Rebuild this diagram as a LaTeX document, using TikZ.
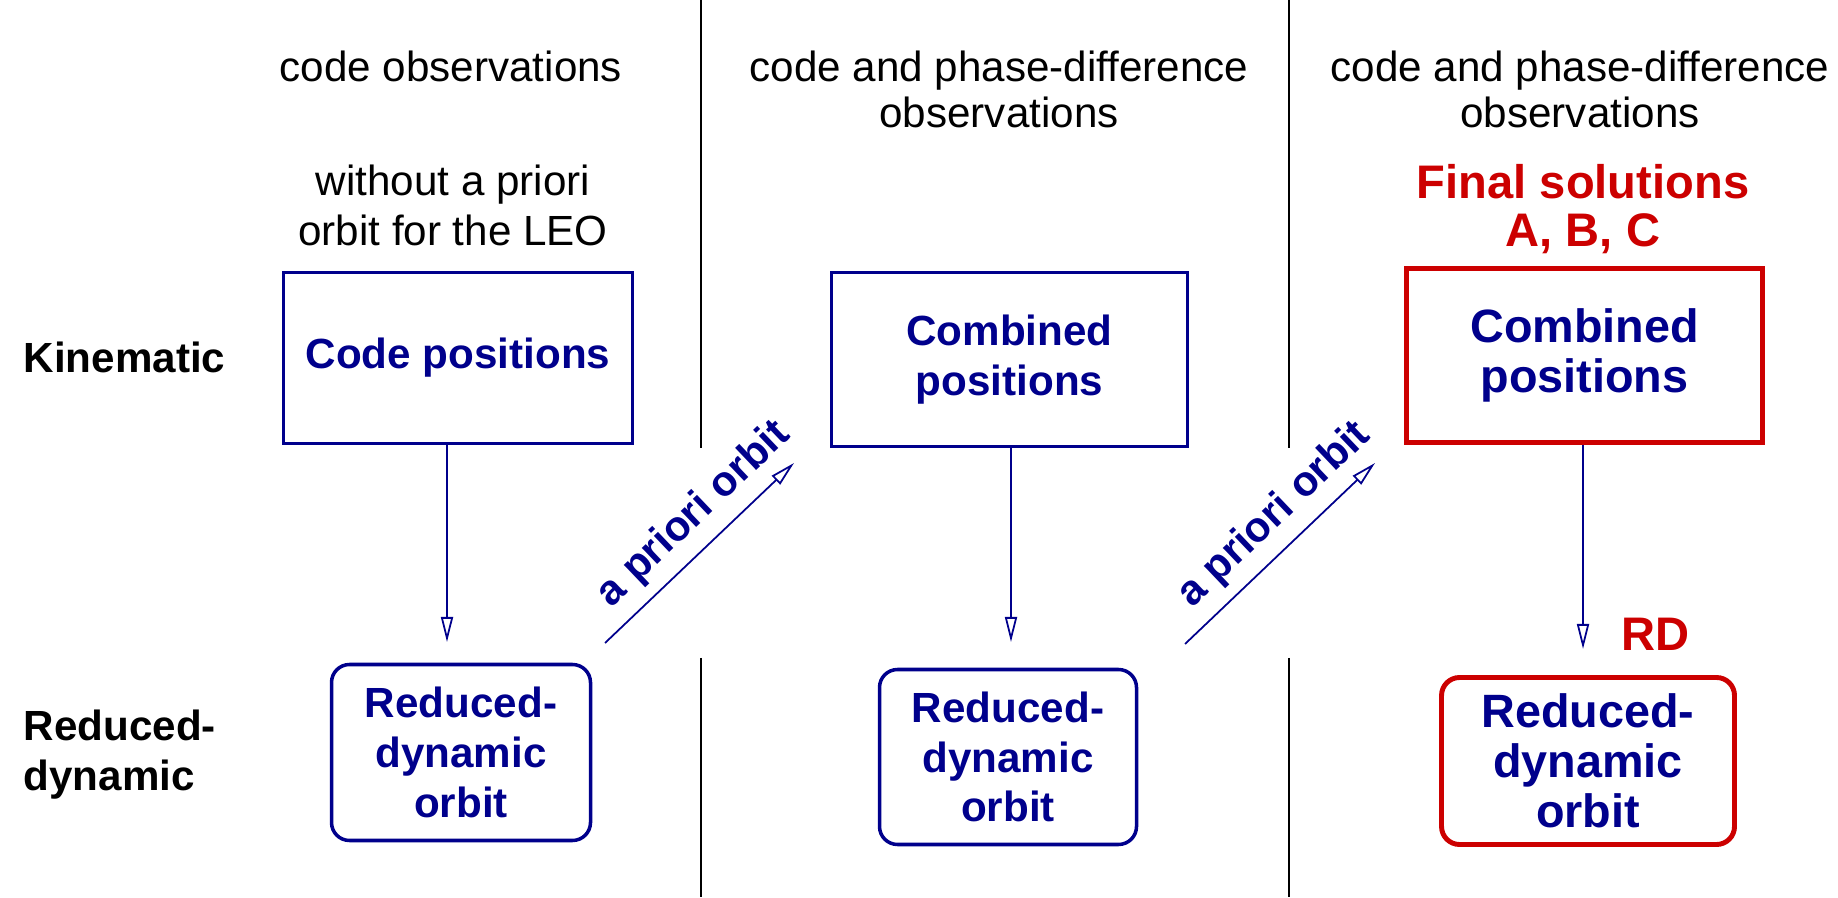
\documentclass[tikz,border=0pt]{standalone}
\usepackage{fontspec}
\setmainfont{Liberation Sans}
\usetikzlibrary{arrows.meta}
\definecolor{leoblue}{RGB}{0,0,140}
\definecolor{leored}{RGB}{204,0,0}
\begin{document}
\begin{tikzpicture}[x=0.1mm,y=0.1mm,
    hdr/.style={font=\fontsize{12}{13.2}\selectfont, align=center, inner sep=0, anchor=base},
    rowlbl/.style={font=\bfseries\fontsize{12}{14.2}\selectfont, align=left, inner sep=0, anchor=base west},
    posbox/.style={draw=leoblue, line width=1pt, text=leoblue, font=\bfseries\fontsize{12}{14.2}\selectfont, align=center, inner sep=0},
    orbbox/.style={posbox, rounded corners=1.8mm},
    final/.style={draw=leored, line width=1.4pt, font=\bfseries\fontsize{13.3}{14.3}\selectfont},
    redlbl/.style={text=leored, font=\bfseries\fontsize{13.4}{13.8}\selectfont, align=center, inner sep=0, anchor=base},
    flow/.style={draw=leoblue, line width=0.5pt, -{Triangle[open,length=2.5mm,width=1.2mm]}},
    prior/.style={sloped, above=1.1mm, inner sep=0, text=leoblue, font=\bfseries\fontsize{12}{14}\selectfont},
    divider/.style={line width=0.4pt}]
  \useasboundingbox (0,0) rectangle (1838,897);

  % column dividers
  \draw[divider] (701,897) -- (701,449) (701,239) -- (701,0);
  \draw[divider] (1289,897) -- (1289,449) (1289,239) -- (1289,0);

  % headings (base = last line)
  \node[hdr] (obsA) at (451,815) {code observations};
  \node[hdr] (obsB) at (999,769) {code and phase-difference\\observations};
  \node[hdr] (obsC) at (1580,769) {code and phase-difference\\observations};
  \node[hdr, font=\fontsize{12}{14.4}\selectfont] (noprior) at (453,651) {without a priori\\orbit for the LEO};
  \node[redlbl] (finalsol) at (1583,650) {Final solutions\\A, B, C};

  % rows
  \node[rowlbl] (kinlbl) at (23,524) {Kinematic};
  \node[rowlbl] (rdlbl) at (23,107) {Reduced-\\dynamic};

  % boxes
  \node[posbox, minimum width=34.9mm, minimum height=17.1mm] (codepos) at (458,539) {Code positions};
  \node[posbox, minimum width=35.6mm, minimum height=17.4mm] (combA) at (1009.5,537.5) {Combined\\positions};
  \node[posbox, final, minimum width=35.6mm, minimum height=17.4mm] (combB) at (1584.5,541.5) {Combined\\positions};
  \node[orbbox, minimum width=25.9mm, minimum height=17.6mm] (orbA) at (461,144.5) {Reduced-\\dynamic\\orbit};
  \node[orbbox, minimum width=25.7mm, minimum height=17.5mm] (orbB) at (1008,140) {Reduced-\\dynamic\\orbit};
  \node[orbbox, final, minimum width=29.3mm, minimum height=16.7mm] (orbC) at (1588,136) {Reduced-\\dynamic\\orbit};
  \node[redlbl] (rd) at (1655,246) {RD};

  % arrows
  \coordinate (tipA) at (447,255);
  \coordinate (tipB) at (1011,255);
  \coordinate (tipC) at (1583,248);
  \draw[flow] (codepos.south -| tipA) -- (tipA);
  \draw[flow] (combA.south -| tipB) -- (tipB);
  \draw[flow] (combB.south -| tipC) -- (tipC);

  \coordinate (priorA0) at (605,254);
  \coordinate (priorA1) at (794,434);
  \coordinate (priorB0) at (1185,253);
  \coordinate (priorB1) at (1375,434);
  \draw[flow] (priorA0) -- (priorA1) node[prior, pos=0.586] {a priori orbit};
  \draw[flow] (priorB0) -- (priorB1) node[prior, pos=0.586] {a priori orbit};
\end{tikzpicture}
\end{document}
